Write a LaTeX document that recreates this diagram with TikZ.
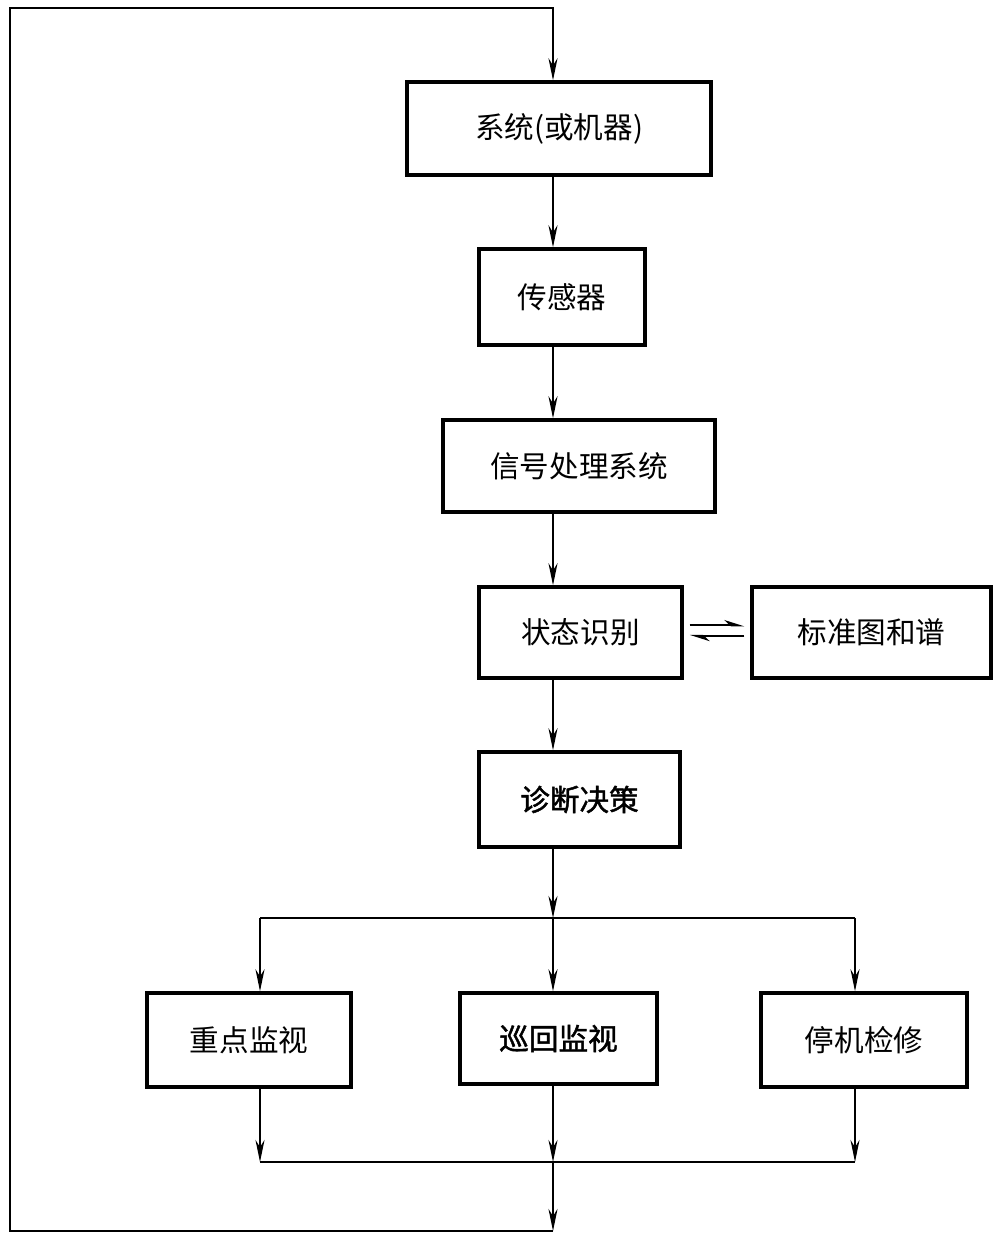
\documentclass[tikz,border=0pt]{standalone}
\usepackage{fontspec}
\newfontfamily\cjk{Noto Sans CJK SC}
\newfontfamily\cjkb{Noto Sans CJK SC}[FakeBold=1.5]
\usetikzlibrary{arrows.meta,calc}
\begin{document}
\begin{tikzpicture}[x=0.5pt,y=-0.5pt,
  box/.style 2 args={draw,line width=1.7pt,minimum width=#1*0.5pt,minimum height=#2*0.5pt,inner sep=0pt,font=\cjk\fontsize{14.8}{17}\selectfont},
  conn/.style={line width=1.2pt},
  arr/.style={line width=1.2pt,-{Stealth[length=11pt,width=4.5pt]}},
  harp/.style={line width=1.2pt,-{Stealth[harpoon,length=8pt,width=5pt]}}]
\useasboundingbox (0,0) rectangle (996,1241);
\coordinate (m) at (553,0);
% boxes
\node[box={304}{93}] (sys) at (559,128.5) {系统(或机器)};
\node[box={166}{96}] (sen) at (562,297) {传感器};
\node[box={272}{92}] (sig) at (579,466) {信号处理系统};
\node[box={203}{91}] (sta) at (580.5,632.5) {状态识别};
\node[box={239}{91}] (std) at (871.5,632.5) {标准图和谱};
\node[box={201}{95},font=\cjkb\fontsize{14.8}{17}\selectfont] (dia) at (579.5,799.5) {诊断决策};
\node[box={204}{94}] (zd) at (249,1040) {重点监视};
\node[box={197}{91},font=\cjkb\fontsize{14.8}{17}\selectfont] (xh) at (558.5,1038.5) {巡回监视};
\node[box={206}{94}] (tj) at (864,1040) {停机检修};
% junction coordinates
\coordinate (bm) at (553,918);
\coordinate (bl) at (260,918);
\coordinate (br) at (855,918);
\coordinate (cm) at (553,1162);
\coordinate (cl) at (260,1162);
\coordinate (cr) at (855,1162);
\coordinate (lb) at (553,1231);
\coordinate (lbl) at (10,1231);
\coordinate (ltl) at (10,8);
\coordinate (ltr) at (553,8);
% main column
\draw[arr] (sys.south -| m) -- (sen.north -| m);
\draw[arr] (sen.south -| m) -- (sig.north -| m);
\draw[arr] (sig.south -| m) -- (sta.north -| m);
\draw[arr] (sta.south -| m) -- (dia.north -| m);
\draw[arr] (dia.south -| m) -- (bm);
% harpoons
\draw[harp] ([xshift=3pt,yshift=3.7pt]sta.east) -- ([xshift=-3pt,yshift=3.7pt]std.west);
\draw[harp] ([xshift=-3pt,yshift=-1.8pt]std.west) -- ([xshift=3pt,yshift=-1.8pt]sta.east);
% branch
\draw[conn] (bl) -- (br);
\draw[arr] (bl) -- (zd.north -| bl);
\draw[arr] (bm) -- (xh.north -| bm);
\draw[arr] (br) -- (tj.north -| br);
% collect
\draw[arr] (zd.south -| cl) -- (cl);
\draw[arr] (xh.south -| cm) -- (cm);
\draw[arr] (tj.south -| cr) -- (cr);
\draw[conn] (cl) -- (cr);
% feedback loop
\draw[arr] (cm) -- (lb);
\draw[arr,line join=miter] (lb) -- (lbl) -- (ltl) -- (ltr) -- (sys.north -| m);
\end{tikzpicture}
\end{document}
